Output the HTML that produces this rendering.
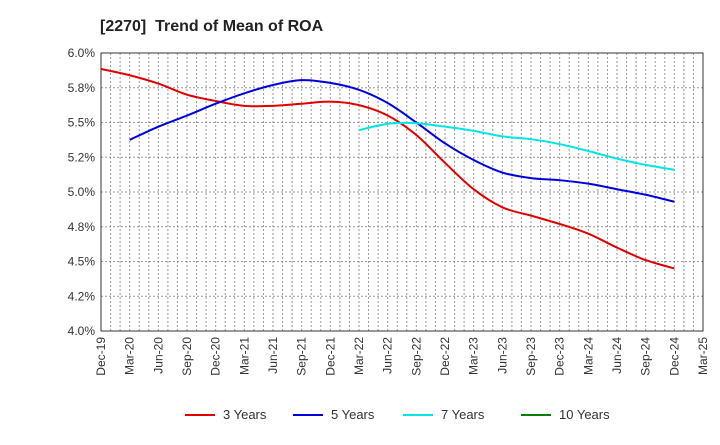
<!DOCTYPE html>
<html><head><meta charset="utf-8"><style>
body{margin:0;background:#fff;font-family:"Liberation Sans",sans-serif;}
svg text{font-family:"Liberation Sans",sans-serif;}
</style></head><body>
<svg id="chart" width="720" height="440" xmlns="http://www.w3.org/2000/svg">
<text x="100" y="31" font-size="16" font-weight="bold" fill="#222" xml:space="preserve" style="white-space:pre">[2270]  Trend of Mean of ROA</text>
<g id="grid"></g><g id="axes"></g><g id="series"></g><g id="legend"></g>
</svg>
<script>
const xLabels=["Dec-19","Mar-20","Jun-20","Sep-20","Dec-20","Mar-21","Jun-21","Sep-21","Dec-21","Mar-22","Jun-22","Sep-22","Dec-22","Mar-23","Jun-23","Sep-23","Dec-23","Mar-24","Jun-24","Sep-24","Dec-24","Mar-25"];
const yTicks=[4.0,4.25,4.5,4.75,5.0,5.25,5.5,5.75,6.0];
const yTickLabels=["4.0%","4.2%","4.5%","4.8%","5.0%","5.2%","5.5%","5.8%","6.0%"];
const series3=[5.885,5.84,5.78,5.70,5.655,5.62,5.62,5.635,5.65,5.625,5.55,5.41,5.21,5.02,4.89,4.83,4.77,4.70,4.60,4.51,4.45];
const series5=[null,5.375,5.47,5.55,5.635,5.71,5.77,5.805,5.785,5.735,5.64,5.50,5.35,5.23,5.14,5.10,5.085,5.06,5.02,4.98,4.93];
const series7=[null,null,null,null,null,null,null,null,null,5.445,5.49,5.495,5.47,5.44,5.40,5.38,5.345,5.295,5.24,5.195,5.16];
const series10=[];
const L=101,R=703,T=53,B=331,NS="http://www.w3.org/2000/svg";
const xs=i=>L+(R-L)*i/(xLabels.length-1);
const ys=v=>B-(v-4.0)/(6.0-4.0)*(B-T);
function mk(tag,at,parent){const e=document.createElementNS(NS,tag);for(const k in at)e.setAttribute(k,at[k]);parent.appendChild(e);return e;}
const grid=document.getElementById('grid'),axes=document.getElementById('axes'),ser=document.getElementById('series'),leg=document.getElementById('legend');
const months=(xLabels.length-1)*3;
for(let m=1;m<months;m++){const x=L+(R-L)*m/months;const l=mk('line',{x1:x,x2:x,y1:T,y2:B,stroke:'#999','stroke-dasharray':'2,2','stroke-width':1},grid);
}
yTicks.forEach((v,i)=>{const y=ys(v);
if(i>0&&i<yTicks.length-1){const l=mk('line',{x1:L,x2:R,y1:y,y2:y,stroke:'#999','stroke-dasharray':'2,2'},grid);}
const t=mk('text',{x:L-6,y:y+4,'text-anchor':'end','font-size':12,fill:'#333'},axes);t.textContent=yTickLabels[i];
});
xLabels.forEach((s,i)=>{const x=xs(i);const t=mk('text',{x:x+4,y:B+6,'text-anchor':'end','font-size':12,fill:'#333',transform:`rotate(-90 ${x+4} ${B+6})`},axes);t.textContent=s;
});
const fr=mk('rect',{x:L,y:T,width:R-L,height:B-T,fill:'none',stroke:'#333'},axes);

function path(arr){const p=[];arr.forEach((v,i)=>{if(v!=null)p.push([xs(i),ys(v)]);});if(p.length<2)return '';
let d=`M${p[0][0]},${p[0][1]}`;for(let i=0;i<p.length-1;i++){const p0=p[i-1]||p[i],p1=p[i],p2=p[i+1],p3=p[i+2]||p2;
d+=` C${p1[0]+(p2[0]-p0[0])/6},${p1[1]+(p2[1]-p0[1])/6} ${p2[0]-(p3[0]-p1[0])/6},${p2[1]-(p3[1]-p1[1])/6} ${p2[0]},${p2[1]}`;}return d;}
[[series3,'#e00000','series-3-years'],[series5,'#0000dd','series-5-years'],[series7,'#00e5e5','series-7-years'],[series10,'#008000','series-10-years']].forEach(([a,c,n])=>{
const d=path(a);if(!d)return;const e=mk('path',{d:d,fill:'none',stroke:c,'stroke-width':2},ser);});
[['3 Years','#e00000',185],['5 Years','#0000dd',293],['7 Years','#00e5e5',403],['10 Years','#008000',521]].forEach(([s,c,x])=>{
const g=mk('g',{},leg);
mk('line',{x1:x,x2:x+30,y1:415,y2:415,stroke:c,'stroke-width':2},g);const t=mk('text',{x:x+38,y:419,'font-size':13,fill:'#333'},g);t.textContent=s;});
</script>
</body></html>
